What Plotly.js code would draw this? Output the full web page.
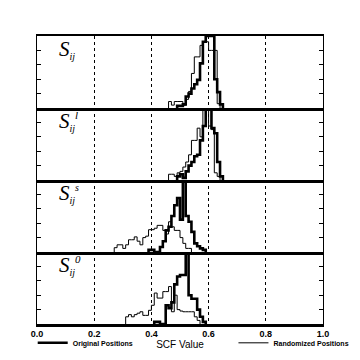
<!DOCTYPE html>
<html>
<head>
<meta charset="utf-8">
<script src="https://cdn.plot.ly/plotly-3.0.1.min.js"></script>
<style>html,body{margin:0;padding:0;background:#fff;}#chart{width:360px;height:360px;}</style>
</head>
<body>
<div id="chart"></div>
<script>
// Histogram bin width (SCF value)
const binWidth = 0.01;

// Panel labels (top to bottom)
const subSpan = '<span style="font-size:10px"><i>ij</i></span>';
const panelLabels = [
  "<i>S</i><sub>" + subSpan + "</sub>",
  "<i>S</i><sub>" + subSpan + "</sub><sup><span style=\"font-size:11px\"><i>l</i></span></sup>",
  "<i>S</i><sub>" + subSpan + "</sub><sup><span style=\"font-size:10px\"><i>s</i></span></sup>",
  "<i>S</i><sub>" + subSpan + "</sub><sup><span style=\"font-size:11px\"><i>0</i></span></sup>"
];

// Panel 1: S_ij  (first bin left edge, relative counts per bin)
const sij_orig_start = 0.49;
const sij_orig = [3, 3, 5, 16, 20, 27, 33, 39, 62, 92, 100, 100, 100, 40, 22, 5];
const sij_rand_start = 0.46;
const sij_rand = [9, 4, 9, 9, 9, 4, 12, 23, 48, 71, 71, 87, 92, 92, 80, 80, 80, 6];

// Panel 2: S_ij^l
const sijl_orig_start = 0.49;
const sijl_orig = [5, 8, 3, 12, 20, 25, 33, 35, 55, 75, 100, 100, 72, 65, 25, 5];
const sijl_rand_start = 0.46;
const sijl_rand = [8, 8, 5, 10, 12, 18, 25, 35, 55, 55, 72, 60, 100, 98, 75, 70, 10, 5];

// Panel 3: S_ij^s
const sijs_orig_start = 0.39;
const sijs_orig = [3, 3, 0, 0, 7, 15, 30, 35, 50, 65, 75, 45, 100, 50, 42, 28, 12, 8, 5, 3];
const sijs_rand_start = 0.27;
const sijs_rand = [6, 10, 10, 5, 10, 17, 17, 21, 15, 10, 20, 22, 31, 31, 33, 37, 37, 30, 25, 42, 35, 30, 30, 20, 12, 5, 5];

// Panel 4: S_ij^0
const sij0_orig_start = 0.41;
const sij0_orig = [3, 3, 0, 0, 26, 22, 30, 55, 66, 68, 68, 100, 40, 35, 35, 20, 10, 3];
const sij0_rand_start = 0.31;
const sij0_rand = [10, 13, 10, 13, 15, 17, 12, 12, 19, 26, 43, 36, 36, 45, 45, 52, 17, 40, 20, 18, 17, 17, 17, 17, 10, 5];

// Axis ticks
const xTickVals = [0.0, 0.2, 0.4, 0.6, 0.8, 1.0];
const xTickText = ["0.0", "0.2", "0.4", "0.6", "0.8", "1.0"];
const legendNames = ["Original Positions", "Randomized Positions"];
const xTitle = "SCF Value";

function stepXY(start, vals) {
  const x = [start], y = [0];
  for (let i = 0; i < vals.length; i++) { x.push(+(start + i * binWidth).toFixed(4)); y.push(vals[i]); }
  x.push(+(start + vals.length * binWidth).toFixed(4)); y.push(0);
  return {x, y};
}

const panels = [
  [sij_orig_start, sij_orig, sij_rand_start, sij_rand],
  [sijl_orig_start, sijl_orig, sijl_rand_start, sijl_rand],
  [sijs_orig_start, sijs_orig, sijs_rand_start, sijs_rand],
  [sij0_orig_start, sij0_orig, sij0_rand_start, sij0_rand]
];

const sansBold = "Liberation Sans, Arial, sans-serif";
const traces = [];
const layout = {
  width: 360, height: 360,
  margin: {l: 37, r: 37, t: 36, b: 36, autoexpand: false},
  paper_bgcolor: "#fff", plot_bgcolor: "#fff",
  font: {family: sansBold, color: "#000", size: 9},
  showlegend: true,
  legend: {x: -0.015, y: -0.015, xanchor: "left", yanchor: "top", orientation: "h",
           font: {size: 7, family: sansBold, weight: "bold"}, bgcolor: "rgba(0,0,0,0)", itemwidth: 30,
           tracegroupgap: 0},
  legend2: {x: 1.11, y: -0.015, xanchor: "right", yanchor: "top", orientation: "h",
           font: {size: 7, family: sansBold, weight: "bold"}, bgcolor: "rgba(0,0,0,0)", itemwidth: 30,
           tracegroupgap: 0},
  annotations: []
};

panels.forEach((p, k) => {
  const idx = k === 0 ? "" : String(k + 1);
  const xa = "x" + idx, ya = "y" + idx;
  const o = stepXY(p[0], p[1]);
  const r = stepXY(p[2], p[3]);
  traces.push({x: r.x, y: r.y, xaxis: xa, yaxis: ya, mode: "lines", line: {shape: "hv", color: "#000", width: 1},
               name: legendNames[1], legend: "legend2", showlegend: k === 0, hoverinfo: "skip", cliponaxis: false});
  traces.push({x: o.x, y: o.y, xaxis: xa, yaxis: ya, mode: "lines", line: {shape: "hv", color: "#000", width: 2.6},
               name: legendNames[0], legend: "legend", showlegend: k === 0, hoverinfo: "skip", cliponaxis: false});
  const d0 = 1 - (k + 1) * 0.25, d1 = 1 - k * 0.25;
  const isBottom = (k === 3);
  const xax = {
    domain: [0, 1], anchor: ya, range: [0, 1],
    tickvals: xTickVals, ticktext: xTickText, showticklabels: isBottom,
    ticks: "", showgrid: true, gridcolor: "#000", griddash: "dot", gridwidth: 1,
    showline: true, linecolor: "#000", linewidth: 2.5, mirror: k === 0,
    zeroline: false, fixedrange: true,
    tickfont: {size: 9, family: sansBold, weight: "bold"}
  };
  if (k > 0) xax.matches = "x";
  if (isBottom) xax.title = {text: xTitle, font: {size: 10, family: sansBold}, standoff: 0};
  layout["xaxis" + idx] = xax;
  layout["yaxis" + idx] = {
    domain: [d0, d1], anchor: xa, range: [0, 100],
    tickvals: [0, 20, 40, 60, 80, 100], showticklabels: false,
    ticks: "inside", ticklen: 4, tickwidth: 1, tickcolor: "#000",
    showgrid: false, zeroline: false,
    showline: true, linecolor: "#000", linewidth: 1, mirror: "ticks", fixedrange: true
  };
  layout.annotations.push({
    text: panelLabels[k], xref: "paper", yref: "paper", x: 0.07, y: d1 + 0.005,
    xanchor: "left", yanchor: "top", showarrow: false,
    font: {family: "Liberation Serif, DejaVu Serif, serif", size: 21, color: "#000"}
  });
});

Plotly.newPlot("chart", traces, layout, {staticPlot: true, displayModeBar: false});
</script>
</body>
</html>
